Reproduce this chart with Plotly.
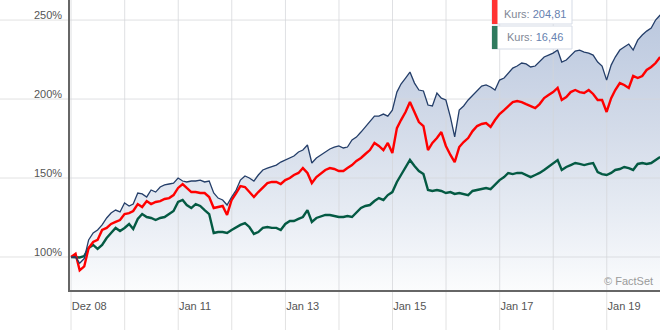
import pandas as pd
import plotly.graph_objects as go

# Monthly closing levels, rebased to 100 at the start (month ends Dec 2008 - Dec 2019)
dates = pd.date_range("2008-12-31", periods=133, freq="ME")

benchmark = [
    100.0, 100.0, 96.0, 99.0, 110.8, 115.2, 117.1, 120.3, 124.7, 127.8,
    129.7, 128.5, 134.2, 132.3, 133.5, 140.5, 139.9, 138.0, 142.4, 141.1,
    144.3, 145.6, 146.2, 146.8, 150.0, 148.1, 147.5, 148.1, 148.1, 148.7,
    147.5, 148.1, 140.5, 137.3, 136.1, 132.9, 138.0, 142.4, 148.7, 151.3,
    150.0, 148.1, 151.9, 155.1, 156.3, 157.0, 158.2, 160.1, 161.4, 162.7,
    163.9, 166.5, 167.7, 170.9, 159.5, 162.7, 164.6, 166.5, 168.4, 169.6,
    170.3, 169.0, 169.6, 174.1, 175.9, 179.1, 182.3, 185.4, 189.2, 189.2,
    190.5, 189.2, 193.0, 204.4, 209.5, 213.3, 217.1, 210.1, 205.7, 205.1,
    196.2, 195.6, 203.8, 200.6, 199.4, 188.6, 176.0, 193.0, 195.6, 199.4,
    202.5, 205.7, 208.2, 208.9, 207.6, 205.7, 212.0, 213.3, 216.5, 219.6,
    220.9, 222.8, 222.2, 220.3, 220.9, 223.4, 226.6, 227.8, 229.1, 231.0,
    223.4, 224.7, 227.8, 230.4, 231.0, 229.7, 229.1, 227.8, 223.4, 220.9,
    212.0, 221.5, 226.6, 231.0, 232.9, 234.8, 231.0, 237.3, 240.5, 243.0,
    244.9, 250.0, 253.2,
]

fund_red = [
    100.0, 102.0, 91.5, 94.0, 105.7, 109.5, 110.8, 117.1, 118.4, 120.9,
    122.2, 123.4, 127.2, 127.8, 129.1, 133.5, 131.6, 135.4, 133.5, 134.8,
    135.4, 136.7, 137.3, 139.2, 143.7, 146.2, 143.7, 141.1, 141.1, 140.5,
    140.5, 138.0, 131.0, 131.6, 132.3, 126.6, 136.1, 140.5, 144.9, 144.3,
    141.1, 138.0, 141.1, 144.3, 146.8, 147.5, 147.5, 146.2, 148.7, 150.0,
    151.9, 153.2, 156.3, 153.2, 146.8, 150.6, 153.2, 155.1, 156.3, 155.7,
    154.4, 154.4, 156.3, 158.2, 160.8, 162.7, 165.2, 167.7, 172.2, 170.3,
    167.7, 172.2, 165.8, 181.6, 186.7, 191.8, 198.1, 191.1, 185.4, 182.9,
    167.7, 172.2, 175.3, 179.1, 170.3, 164.6, 160.1, 169.6, 172.8, 175.3,
    179.7, 182.9, 184.2, 184.8, 182.3, 186.7, 190.5, 193.0, 195.6, 198.1,
    198.7, 198.1, 196.8, 195.6, 194.3, 196.8, 200.6, 202.5, 204.4, 207.0,
    199.4, 201.3, 204.4, 205.7, 204.4, 203.8, 205.7, 203.2, 199.4, 199.4,
    191.8, 200.6, 205.7, 210.1, 208.9, 207.0, 214.6, 213.3, 214.6, 218.4,
    220.3, 222.8, 226.6,
]

fund_green = [
    100.0, 100.0, 99.7, 100.6, 105.7, 107.6, 105.1, 107.6, 112.0, 115.2,
    118.4, 116.5, 118.4, 120.9, 117.7, 124.1, 127.2, 125.3, 124.7, 123.4,
    124.7, 125.3, 127.2, 129.1, 134.8, 136.1, 132.9, 131.0, 133.5, 132.3,
    129.7, 127.2, 115.2, 115.8, 115.8, 115.2, 117.1, 119.0, 120.3, 121.5,
    119.0, 114.6, 115.8, 118.4, 119.0, 118.4, 118.4, 117.1, 120.9, 122.8,
    122.8, 124.1, 125.3, 129.7, 122.2, 124.7, 125.9, 126.6, 126.6, 125.9,
    125.3, 125.3, 125.9, 125.3, 127.8, 131.0, 132.3, 132.9, 135.4, 137.3,
    136.1, 139.2, 141.1, 147.5, 151.9, 157.0, 161.4, 157.6, 154.4, 152.5,
    142.4, 141.8, 142.4, 141.8, 140.5, 141.1, 139.9, 140.5, 139.9, 139.2,
    141.8, 142.4, 143.0, 143.7, 143.0, 145.6, 148.7, 150.6, 153.2, 152.5,
    153.2, 153.2, 151.9, 150.6, 151.9, 153.2, 155.1, 157.0, 158.9, 161.4,
    155.1, 157.0, 158.2, 159.5, 158.9, 158.2, 158.9, 159.5, 153.8, 152.5,
    151.9, 153.2, 155.1, 155.7, 157.0, 156.3, 155.1, 158.9, 159.5, 158.9,
    159.5, 161.4, 163.3,
]

# Axis setup
x_start, x_end = "2008-12-24", "2019-12-30"
y_lo, y_hi = 79.1, 262.7
grid_dates = ["2008-12-31"] + [f"{y}-01-01" for y in range(2010, 2020)]
label_dates = ["2008-12-31", "2011-01-01", "2013-01-01", "2015-01-01", "2017-01-01", "2019-01-01"]
label_text = ["Dez 08", "Jan 11", "Jan 13", "Jan 15", "Jan 17", "Jan 19"]
y_ticks = [100, 150, 200, 250]
y_text = ["100%", "150%", "200%", "250%"]

tooltip_values = ["204,81", "16,46"]

NAVY = "#243e69"
RED = "#ff0000"
GREEN = "#045a43"
GRID = "rgba(212,214,218,0.75)"
FONT = "Arial, Liberation Sans, sans-serif"

fig = go.Figure()

# shaded area under the benchmark
fig.add_trace(go.Scatter(
    x=dates, y=benchmark, mode="lines", line=dict(width=0, color=NAVY),
    fill="tozeroy",
    fillgradient=dict(
        type="vertical", start=y_lo, stop=250,
        colorscale=[[0, "#fbfcfd"], [0.3, "#e6ebf3"], [0.6, "#d3dbe9"], [1, "#bcc9df"]],
    ),
    hoverinfo="skip", showlegend=False,
))

# gridlines inside the plot, drawn over the shading but under the lines
gx, gy = [], []
for d in grid_dates:
    gx += [d, d, None]
    gy += [y_lo, y_hi, None]
for v in y_ticks:
    gx += [x_start, x_end, None]
    gy += [v, v, None]
fig.add_trace(go.Scatter(x=gx, y=gy, mode="lines", line=dict(color=GRID, width=1),
                         hoverinfo="skip", showlegend=False))

fig.add_trace(go.Scatter(x=dates, y=fund_green, mode="lines",
                         line=dict(color=GREEN, width=2.4), showlegend=False))
fig.add_trace(go.Scatter(x=dates, y=fund_red, mode="lines",
                         line=dict(color=RED, width=2.4), showlegend=False))
fig.add_trace(go.Scatter(x=dates, y=benchmark, mode="lines",
                         line=dict(color=NAVY, width=1.3), showlegend=False))

shapes = []
# grid continues below the x axis and left of the y axis
for d in grid_dates:
    shapes.append(dict(type="line", xref="x", yref="paper", x0=d, x1=d, y0=-0.14, y1=0,
                       line=dict(color="#e2e2e2", width=1), layer="below"))
for v in y_ticks:
    shapes.append(dict(type="line", xref="paper", yref="y", x0=-0.12, x1=0, y0=v, y1=v,
                       line=dict(color="#e2e2e2", width=1), layer="below"))

# tooltip boxes
def px_x(p):
    return (p - 70) / 590

def px_y(p):
    return (290 - p) / 290

boxes = [(-3, 24, "#ff3333", 14), (26, 49, "#2f7a5f", 37.5)]
for (top, bot, col, _) in boxes:
    shapes.append(dict(type="rect", xref="paper", yref="paper",
                       x0=px_x(492), x1=px_x(572), y0=px_y(bot), y1=px_y(top),
                       fillcolor="white", line=dict(color="#d5dbe6", width=1), layer="above"))
    shapes.append(dict(type="rect", xref="paper", yref="paper",
                       x0=px_x(492), x1=px_x(497.5), y0=px_y(bot), y1=px_y(top),
                       fillcolor=col, line=dict(width=0), layer="above"))

annotations = []
for (_, _, _, mid), val in zip(boxes, tooltip_values):
    annotations.append(dict(
        xref="paper", yref="paper", x=px_x(535), y=px_y(mid),
        xanchor="center", yanchor="middle", showarrow=False,
        text=f"<span style='color:#7f8796'>Kurs: </span><span style='color:#6681b0'>{val}</span>",
        font=dict(family=FONT, size=11),
    ))
annotations.append(dict(
    xref="paper", yref="paper", x=px_x(655), y=px_y(281), xanchor="right", yanchor="middle",
    showarrow=False, text="© FactSet", font=dict(family=FONT, size=11, color="#9a9a9a"),
))

fig.update_layout(
    width=660, height=330,
    margin=dict(l=70, r=0, t=0, b=40, pad=0),
    paper_bgcolor="white", plot_bgcolor="rgba(0,0,0,0)",
    font=dict(family=FONT, size=11, color="#555555"),
    shapes=shapes, annotations=annotations,
    hovermode=False,
    xaxis=dict(
        type="date", range=[x_start, x_end], showgrid=False, zeroline=False,
        showline=True, linecolor="#666666", linewidth=1.5,
        tickmode="array", tickvals=label_dates, ticktext=label_text,
        ticks="", ticklabelposition="outside right", ticklabelstandoff=5,
        tickfont=dict(family=FONT, size=11, color="#555555"),
    ),
    yaxis=dict(
        range=[y_lo, y_hi], showgrid=False, zeroline=False,
        showline=True, linecolor="#666666", linewidth=1.5,
        tickmode="array", tickvals=y_ticks, ticktext=y_text,
        ticks="", ticklabelposition="outside top", ticklabelstandoff=4,
        ticklabelshift=3,
        tickfont=dict(family=FONT, size=11, color="#555555"),
    ),
)

fig.write_html("out.html")
